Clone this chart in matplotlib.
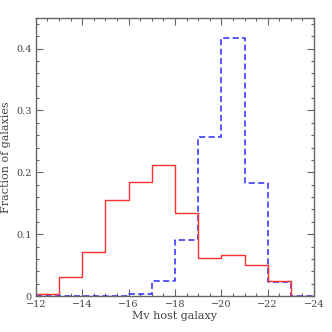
"""
Histogram of host galaxy magnitudes
"""
import matplotlib
matplotlib.use('Agg')
import matplotlib.pyplot as plt
from matplotlib.ticker import MultipleLocator
import numpy as np

# bin edges (Mv), from -12 to -24
bordas = [-12, -13, -14, -15, -16, -17, -18, -19, -20, -21, -22, -23, -24]

# fraction per bin
frac_vermelho = [0.004, 0.031, 0.072, 0.155, 0.185, 0.212, 0.134,
                 0.062, 0.066, 0.051, 0.025, 0.0]
frac_azul = [0.0, 0.001, 0.0, 0.0, 0.004, 0.025, 0.091,
             0.257, 0.417, 0.182, 0.023, 0.0]

plt.rcParams['font.family'] = 'DejaVu Serif'

fig = plt.figure(figsize=(3.32, 3.32), dpi=100)
ax = fig.add_axes([0.108, 0.108, 0.838, 0.839])

ax.step(bordas, frac_azul + [frac_azul[-1]], where='post',
        color='#2a2aff', linewidth=1.1, linestyle=(0, (4, 2.2)))
ax.step(bordas, frac_vermelho + [frac_vermelho[-1]], where='post',
        color='#ff3030', linewidth=1.0)

ax.set_xlim(-12, -24)
ax.set_ylim(0, 0.45)

ax.xaxis.set_major_locator(MultipleLocator(2))
ax.xaxis.set_minor_locator(MultipleLocator(0.5))
ax.yaxis.set_major_locator(MultipleLocator(0.1))
ax.yaxis.set_minor_locator(MultipleLocator(0.02))
ax.yaxis.set_major_formatter(plt.FuncFormatter(lambda v, p: '0' if v == 0 else f'{v:.1f}'))

cinza = '#666666'
for s in ax.spines.values():
    s.set_color(cinza)
    s.set_linewidth(1.0)
ax.tick_params(which='both', direction='in', top=True, right=True,
               colors=cinza, labelcolor='#444444', labelsize=7, pad=3)
ax.tick_params(which='major', length=5, width=0.8)
ax.tick_params(which='minor', length=2.5, width=0.8)

ax.set_xlabel('Mv host galaxy', fontsize=8, color='#444444', labelpad=1)
ax.set_ylabel('Fraction of galaxies', fontsize=8, color='#444444', labelpad=4)

plt.savefig('out.png', dpi=100)
plt.close(fig)
